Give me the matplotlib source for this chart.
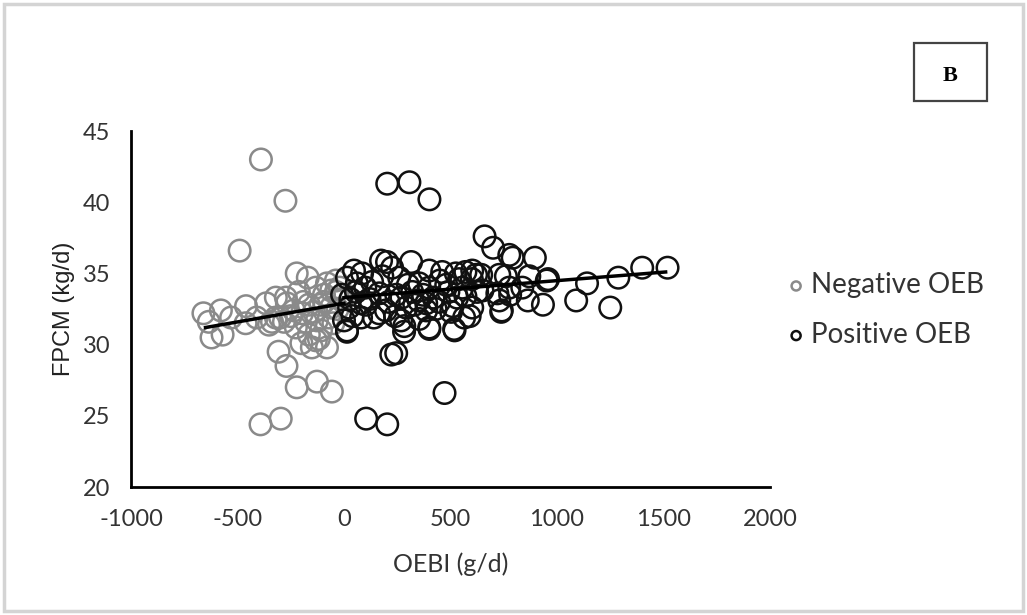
import matplotlib.pyplot as plt
from matplotlib.patches import Rectangle

plt.rcParams['axes.unicode_minus'] = False

# negative OEB cows (grey)
neg_x = [-390, -275, -490, -222, -170, -660, -635, -622, -578, -570, -530, -460,
         -462, -410, -365, -352, -320, -338, -307, -270, -222, -127, -57, -392,
         -297, -320, -273, -212, -132, -80, -38, -38, -94, -165, -235, -300,
         -179, -127, -71, -226, -108, -165, -132, -200, -151, -80, -118, -61,
         -282, -268, -197, -141, -94, -20, -10, -30, -50, -250, -190, -110, -60]
neg_y = [43.0, 40.1, 36.6, 35.0, 34.7, 32.2, 31.6, 30.5, 32.4, 30.7, 31.9, 32.7,
         31.5, 31.9, 32.9, 31.4, 31.9, 31.6, 29.5, 28.5, 27.0, 27.4, 26.7, 24.4,
         24.8, 33.3, 33.3, 33.7, 34.0, 34.3, 34.5, 33.7, 33.0, 32.8, 32.4, 31.9,
         31.6, 31.7, 31.9, 31.2, 31.0, 30.7, 30.3, 30.1, 29.8, 29.8, 30.4, 32.6,
         31.6, 32.9, 32.2, 32.3, 33.5, 34.0, 33.2, 32.5, 31.5, 32.0, 33.0, 32.8, 33.8]

# positive OEB cows (black)
pos_x = [660, 700, 792, 896, 958, 934, 863, 741, 222, 245, 472, 104, 203, 14, 283,
         401, 519, 203, 307, 401, 1519, 1400, 1288, 1141, 1090, 1250, 952, 870,
         760, 780, 600, 650, 720,
         14, 47, 85, 174, 202, 226, 315, 132, 259, 353, -9, 56, 165, 245, 320, 24,
         103, 197, 292, 386, 0, 80, 165, 268, 353, 14, 282,
         400, 461, 525, 602, 644, 729, 776, 776, 837, 400, 480, 555, 625, 447, 531,
         602, 729, 386, 503, 564, 738, 400, 517,
         30, 60, 120, 140, 210, 240, 300, 330, 370, 420, 450, 490, 510, 540, 570,
         590, 620, 570, 430, 350, 270, 180, 100, 40, 80]
pos_y = [37.6, 36.8, 36.1, 36.1, 34.6, 32.8, 33.1, 32.4, 29.3, 29.4, 26.6, 24.8,
         24.4, 31.0, 31.3, 31.1, 31.0, 41.3, 41.4, 40.2, 35.4, 35.4, 34.7, 34.3,
         33.1, 32.6, 34.5, 34.8, 34.8, 33.5, 34.6, 33.8, 33.6,
         34.7, 35.2, 35.0, 35.9, 35.8, 35.4, 35.8, 34.4, 34.7, 34.3, 33.5, 33.7,
         33.6, 33.5, 33.7, 32.6, 32.8, 32.4, 32.6, 32.9, 31.7, 31.9, 32.2, 31.7,
         31.8, 30.9, 30.9,
         35.2, 35.1, 35.0, 35.2, 34.9, 34.9, 36.3, 34.0, 34.0, 34.0, 34.2, 34.0,
         33.7, 33.0, 33.3, 32.6, 33.1, 32.4, 32.3, 31.9, 32.3, 31.2, 31.1,
         33.2, 34.3, 33.2, 31.9, 33.0, 32.0, 34.2, 32.8, 33.5, 33.3, 34.5, 33.7,
         32.7, 34.6, 33.4, 32.0, 34.9, 35.1, 32.5, 33.1, 33.3, 34.8, 34.0, 32.0, 32.9]

# trend lines
neg_trend_x = [-650, 0]
neg_trend_y = [31.2, 32.9]
pos_trend_x = [0, 1510]
pos_trend_y = [33.3, 35.1]

font = 'Lato'

fig = plt.figure(figsize=(10.27, 6.15), dpi=100)
ax = fig.add_axes([131/1027, 1 - 487/615, 639/1027, 356/615])

ax.scatter(neg_x, neg_y, s=240, facecolors='none', edgecolors='#8a8a8a',
           linewidths=1.8, label='Negative OEB', zorder=2)
ax.scatter(pos_x, pos_y, s=240, facecolors='none', edgecolors='#111111',
           linewidths=1.8, label='Positive OEB', zorder=3)
ax.plot(neg_trend_x, neg_trend_y, color='black', lw=2.5, zorder=4)
ax.plot(pos_trend_x, pos_trend_y, color='black', lw=2.5, zorder=4)

ax.set_xlim(-1000, 2000)
ax.set_ylim(20, 45)
ax.set_xticks([-1000, -500, 0, 500, 1000, 1500, 2000])
ax.set_yticks([20, 25, 30, 35, 40, 45])
ax.tick_params(length=0, labelsize=17, labelcolor='#333333')
ax.tick_params(axis='x', pad=16)
ax.tick_params(axis='y', pad=15)
for t in ax.get_xticklabels() + ax.get_yticklabels():
    t.set_family(font)
ax.spines['top'].set_visible(False)
ax.spines['right'].set_visible(False)
ax.spines['left'].set_linewidth(2)
ax.spines['bottom'].set_linewidth(2)

ax.set_xlabel('OEBI (g/d)', fontsize=18, family=font, color='#333333', labelpad=16)
ax.set_ylabel('FPCM (kg/d)', fontsize=17, family='Liberation Sans', color='#222222')
ax.yaxis.set_label_coords(-0.088, 0.5)

leg = ax.legend(loc='center left', bbox_to_anchor=(0.98, 0.497), frameon=False,
                markerscale=0.42, handletextpad=0.05, labelspacing=0.85,
                prop={'family': font, 'size': 20}, handlelength=1.0)
for t in leg.get_texts():
    t.set_color('#333333')

# outer grey frame
fig.patches.append(Rectangle((4/1027, 4/615), 1019/1027, 607/615, transform=fig.transFigure,
                             fill=False, edgecolor='#d4d4d4', lw=2.5))
# panel letter box
fig.patches.append(Rectangle((914/1027, 1 - 101/615), 73/1027, 58/615, transform=fig.transFigure,
                             fill=False, edgecolor='#444444', lw=1.6))
fig.text(950/1027, 1 - 76/615, 'B', ha='center', va='center', fontsize=16,
         fontweight='bold', family='Liberation Serif')

plt.savefig('out.png', dpi=100)
